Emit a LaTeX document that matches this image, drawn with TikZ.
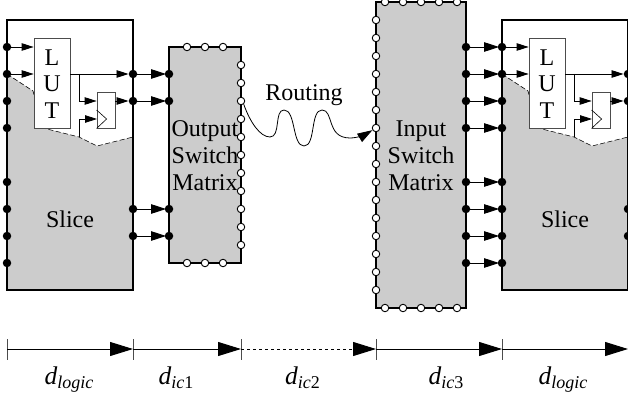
\documentclass[tikz,border=0pt]{standalone}
\usepackage{fontspec}
\setmainfont{Liberation Serif}
\usetikzlibrary{arrows.meta}
\definecolor{slicegrey}{HTML}{CCCCCC}
\newcommand{\dsub}[1]{\textit{d}\raisebox{-4.5pt}{\fontsize{18}{18}\selectfont #1}}
\tikzset{
  lbl/.style={font=\fontsize{24}{26.5}\selectfont,inner sep=0pt,anchor=base,align=center},
  dlbl/.style={font=\fontsize{25.5}{25.5}\selectfont,inner sep=0pt,anchor=base},
  dot/.style={circle,fill=black,draw=none,minimum size=8.5pt,inner sep=0pt},
  port/.style={circle,fill=white,draw=black,line width=0.9pt,minimum size=7.5pt,inner sep=0pt},
  frame/.style={draw=black,line width=1.5pt},
  thin box/.style={draw=black!70,fill=white,line width=0.8pt,inner sep=0pt},
  small/.style={-{Triangle[length=12pt,width=7.5pt]},line width=0.8pt},
  big/.style={-{Triangle[length=15pt,width=9.5pt]},line width=0.9pt,shorten >=-1.5pt},
  wire/.style={line width=0.8pt,draw=black!80},
  scale head/.style={-{Triangle[length=23pt,width=14pt]},line width=0.9pt},
  tick/.style={draw=black!70,line width=0.7pt}
}
\begin{document}
\begin{tikzpicture}[x=1pt,y=-1pt]
\useasboundingbox (0,0) rectangle (628,398);
\fill[white] (0,0) rectangle (628,398);

% slices
\foreach \p/\dx in {A/0,B/495}{
\begin{scope}[xshift=\dx pt,name prefix=\p-]
  \fill[slicegrey] (7,74) -- (33,91) -- (43,128) -- (79,137) -- (97,146) -- (133,137) -- (133,290) -- (7,290) -- cycle;
  \draw[line width=0.6pt,dash pattern=on 5pt off 2.5pt] (7,74) -- (33,91) -- (43,128) -- (79,137) -- (97,146) -- (133,137);
  \draw[frame] (7,20) rectangle (133,290);
  \node[thin box,minimum width=36pt,minimum height=90pt] (lut) at (52,83) {};
  \node[lbl,anchor=center] (luttext) at (52,84) {L\\U\\T};
  \node[thin box,minimum width=18pt,minimum height=36pt] (ff) at (106,110) {};
  \draw[line width=0.6pt] (ff.west) -- ++(10,9) -- (ff.south west);
  \foreach \y in {47,74,101,128,182,209,236,263}{ \node[dot] (L\y) at (7,\y) {}; }
  \foreach \y in {74,101,209,236}{ \node[dot] (R\y) at (133,\y) {}; }
  \coordinate (j) at (79,74);
  \coordinate (k) at (79,137);
  \coordinate (clk) at (97,119);
  \draw[small] (L47) -- (lut.west|-L47);
  \draw[small] (L74) -- (lut.west|-L74);
  \draw[small] (lut.east|-R74) -- (R74);
  \draw[small] (ff.east|-R101) -- (R101);
  \draw[small] (j) |- (ff.west|-R101);
  \draw[small] (k) |- (clk);
  \node[lbl] (slice) at (70,227) {Slice};
\end{scope}
}

% output switch matrix
\draw[frame,fill=slicegrey] (169,47) rectangle (241,263);
\foreach \x in {187,205,223}{
  \node[port] (OT\x) at (\x,47) {};
  \node[port] (OB\x) at (\x,263) {};
}
\foreach \y in {65,83,...,245}{ \node[port] (O\y) at (241,\y) {}; }
\foreach \y in {74,101,209,236}{
  \node[dot] (OL\y) at (169,\y) {};
  \draw[big] (A-R\y) -- (OL\y);
}
\node[lbl] (o1) at (205,137) {Output};
\node[lbl] (o2) at (205,164) {Switch};
\node[lbl] (o3) at (205,190) {Matrix};

% input switch matrix
\draw[frame,fill=slicegrey] (376,2) rectangle (466,308);
\foreach \x in {385,403,421,439,457}{
  \node[port] (IT\x) at (\x,2) {};
  \node[port] (IB\x) at (\x,308) {};
}
\foreach \y in {20,38,...,290}{ \node[port] (I\y) at (376,\y) {}; }
\foreach \y in {47,74,101,128,182,209,236,263}{
  \node[dot] (IR\y) at (466,\y) {};
  \draw[big] (IR\y) -- (B-L\y);
}
\node[lbl] (i1) at (421,137) {Input};
\node[lbl] (i2) at (421,164) {Switch};
\node[lbl] (i3) at (421,190) {Matrix};

% routing
\node[lbl] (routing) at (304,101) {Routing};
\draw[-{Triangle[length=15pt,width=9.5pt]},line width=0.8pt] (O101.-50) .. controls (250,122) and (260,137) .. (270,137)
  .. controls (281,137) and (274,110) .. (284,110)
  .. controls (296,110) and (292,146) .. (304,146)
  .. controls (316,146) and (310,110) .. (322,110)
  .. controls (334,110) and (326,138) .. (350,138)
  .. controls (358,138) and (366,134) .. (I128);

% delay scale
\foreach \n/\x in {0/7,1/133,2/241,3/376,4/502,5/628}{
  \coordinate (t\n) at (\x,349);
  \draw[tick] (\x,339) -- (\x,360);
}
\draw[scale head] (t0) -- (t1);
\draw[scale head] (t1) -- (t2);
\draw[scale head,dashed] (t2) -- (t3);
\draw[scale head] (t3) -- (t4);
\draw[scale head] (t4) -- (t5);
\node[dlbl] (d1) at (69,384) {\dsub{\itshape logic}};
\node[dlbl] (d2) at (176,384) {\dsub{\textit{ic}1}};
\node[dlbl] (d3) at (302.5,384) {\dsub{\textit{ic}2}};
\node[dlbl] (d4) at (446,384) {\dsub{\textit{ic}3}};
\node[dlbl] (d5) at (563,384) {\dsub{\itshape logic}};
\end{tikzpicture}
\end{document}
